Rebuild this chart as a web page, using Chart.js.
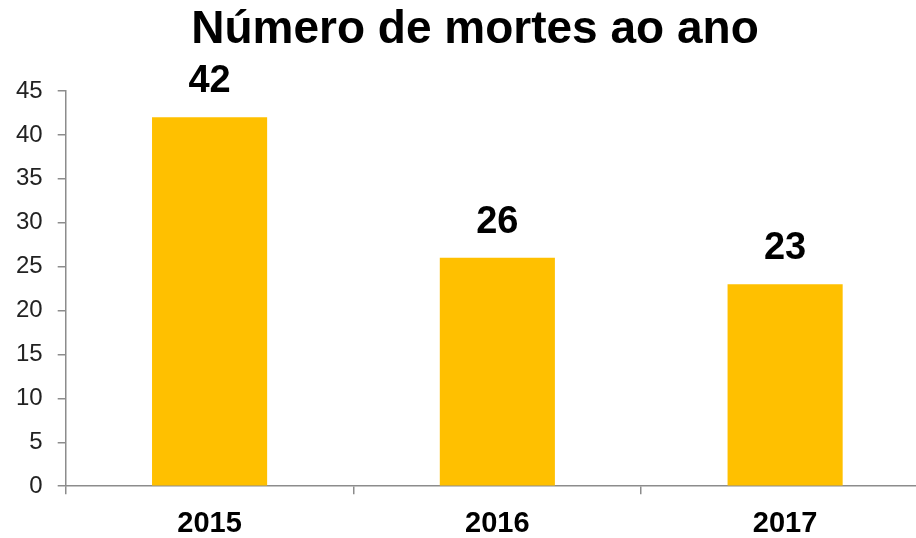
<!DOCTYPE html>
<html>
<head>
<meta charset="utf-8">
<script src="https://cdn.jsdelivr.net/npm/chart.js@4/dist/chart.umd.min.js"></script>
<style>
  html, body { margin: 0; padding: 0; background: #fff; overflow: hidden; }
  #wrap { width: 929px; height: 538px; }
</style>
</head>
<body>
<div id="wrap"><canvas id="mortesChart"></canvas></div>
<script>
// data
const chartTitle = 'Número de mortes ao ano';
const years = ['2015', '2016', '2017'];
const deaths = [42, 26, 23];
const yTicks = [0, 5, 10, 15, 20, 25, 30, 35, 40, 45];

const axisGray = '#8c8c8c';
const font = 'Arial, "Liberation Sans", sans-serif';

// title + value labels over the bars
const labelsPlugin = {
    id: 'labelsPlugin',
    afterDatasetsDraw(chart) {
        const ctx = chart.ctx;
        ctx.save();
        ctx.fillStyle = '#000';
        ctx.textAlign = 'center';
        ctx.textBaseline = 'alphabetic';
        ctx.font = 'bold 46px ' + font;
        ctx.fillText(chartTitle, 475, 43);

        ctx.font = 'bold 38px ' + font;
        const meta = chart.getDatasetMeta(0);
        meta.data.forEach((bar, i) => {
            ctx.fillText(String(deaths[i]), bar.x, bar.y - 25);
        });
        ctx.restore();
    }
};

const ctx = document.getElementById('mortesChart');
new Chart(ctx, {
    type: 'bar',
    data: {
        labels: years,
        datasets: [{
            data: deaths,
            backgroundColor: '#FFC000',
            borderWidth: 0,
            barPercentage: 0.4,
            categoryPercentage: 1.0
        }]
    },
    options: {
        responsive: true,
        maintainAspectRatio: false,
        animation: false,
        layout: { padding: { top: 91, left: 1, right: 0, bottom: 0 } },
        plugins: {
            legend: { display: false },
            tooltip: { enabled: false }
        },
        scales: {
            y: {
                min: 0,
                max: 45,
                afterBuildTicks: axis => { axis.ticks = yTicks.map(v => ({ value: v })); },
                border: { color: axisGray, width: 1.5 },
                grid: { drawOnChartArea: false, color: axisGray, tickLength: 8, lineWidth: 1.5 },
                ticks: {
                    padding: 15,
                    color: '#222',
                    font: { family: font, size: 24 }
                }
            },
            x: {
                afterFit: axis => { axis.height -= 15; },
                border: { color: axisGray, width: 1.5 },
                grid: { drawOnChartArea: false, color: axisGray, tickLength: 8, lineWidth: 1.5 },
                ticks: {
                    padding: 12,
                    color: '#000',
                    font: { family: font, size: 29, weight: 'bold' }
                }
            }
        }
    },
    plugins: [labelsPlugin]
});
</script>
</body>
</html>
